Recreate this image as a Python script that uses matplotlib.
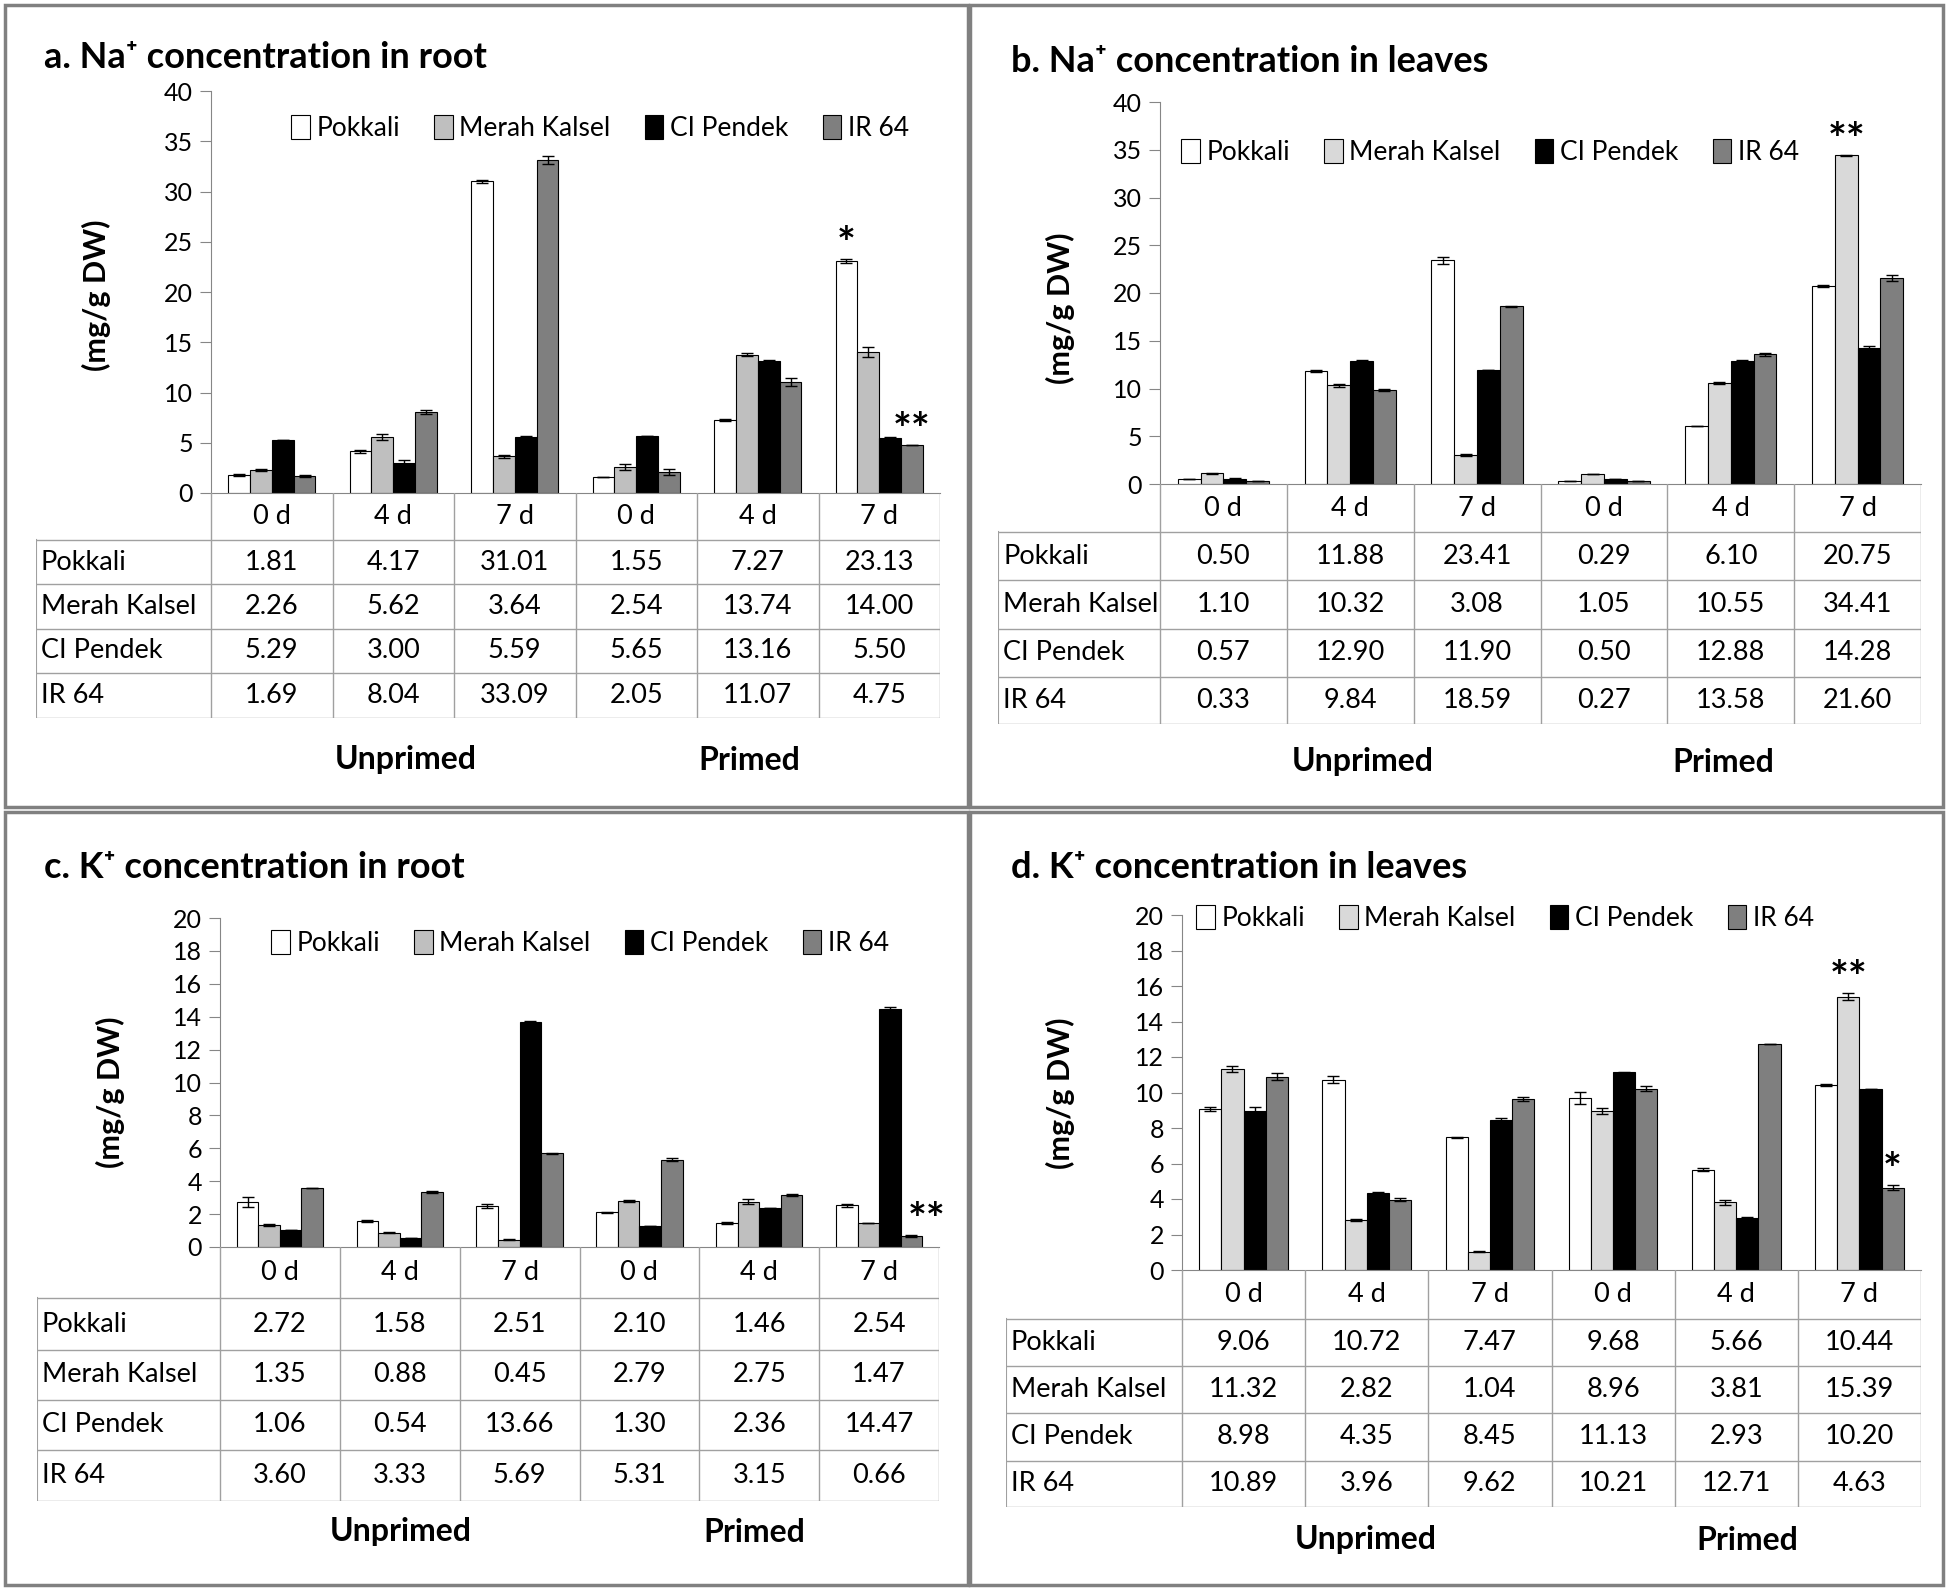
import matplotlib.pyplot as plt
import numpy as np
from matplotlib.patches import Rectangle

plt.rcParams['font.family'] = ['Lato', 'DejaVu Sans']

# Data
varieties = ['Pokkali', 'Merah Kalsel', 'CI Pendek', 'IR 64']
days = ['0 d', '4 d', '7 d', '0 d', '4 d', '7 d']
treatments = ['Unprimed', 'Primed']

# a. Na+ in root (mg/g DW)
na_root = [
    [1.81, 4.17, 31.01, 1.55, 7.27, 23.13],
    [2.26, 5.62, 3.64, 2.54, 13.74, 14.00],
    [5.29, 3.00, 5.59, 5.65, 13.16, 5.50],
    [1.69, 8.04, 33.09, 2.05, 11.07, 4.75],
]
na_root_err = [
    [0.10, 0.15, 0.15, 0.00, 0.10, 0.20],
    [0.10, 0.30, 0.15, 0.30, 0.15, 0.50],
    [0.00, 0.30, 0.10, 0.00, 0.10, 0.10],
    [0.10, 0.20, 0.40, 0.30, 0.40, 0.00],
]
na_root_sig = [(0, 5, '*'), (3, 5, '**')]

# b. Na+ in leaves
na_leaf = [
    [0.50, 11.88, 23.41, 0.29, 6.10, 20.75],
    [1.10, 10.32, 3.08, 1.05, 10.55, 34.41],
    [0.57, 12.90, 11.90, 0.50, 12.88, 14.28],
    [0.33, 9.84, 18.59, 0.27, 13.58, 21.60],
]
na_leaf_err = [
    [0.00, 0.10, 0.40, 0.00, 0.00, 0.10],
    [0.10, 0.15, 0.10, 0.00, 0.10, 0.05],
    [0.10, 0.10, 0.00, 0.00, 0.10, 0.20],
    [0.00, 0.15, 0.10, 0.00, 0.15, 0.30],
]
na_leaf_sig = [(1, 5, '**')]

# c. K+ in root
k_root = [
    [2.72, 1.58, 2.51, 2.10, 1.46, 2.54],
    [1.35, 0.88, 0.45, 2.79, 2.75, 1.47],
    [1.06, 0.54, 13.66, 1.30, 2.36, 14.47],
    [3.60, 3.33, 5.69, 5.31, 3.15, 0.66],
]
k_root_err = [
    [0.30, 0.05, 0.12, 0.05, 0.05, 0.08],
    [0.05, 0.05, 0.05, 0.08, 0.15, 0.00],
    [0.00, 0.00, 0.05, 0.00, 0.00, 0.12],
    [0.00, 0.05, 0.05, 0.10, 0.08, 0.05],
]
k_root_sig = [(3, 5, '**')]

# d. K+ in leaves
k_leaf = [
    [9.06, 10.72, 7.47, 9.68, 5.66, 10.44],
    [11.32, 2.82, 1.04, 8.96, 3.81, 15.39],
    [8.98, 4.35, 8.45, 11.13, 2.93, 10.20],
    [10.89, 3.96, 9.62, 10.21, 12.71, 4.63],
]
k_leaf_err = [
    [0.10, 0.20, 0.05, 0.35, 0.10, 0.05],
    [0.15, 0.05, 0.05, 0.15, 0.15, 0.20],
    [0.20, 0.05, 0.10, 0.05, 0.05, 0.00],
    [0.20, 0.10, 0.10, 0.15, 0.00, 0.15],
]
k_leaf_sig = [(1, 5, '**'), (3, 5, '*')]

colors_dark = ['white', '#bfbfbf', 'black', '#7f7f7f']
colors_light = ['white', '#d9d9d9', 'black', '#7f7f7f']

# Figure (pixel layout)
W, H = 1948, 1590
fig = plt.figure(figsize=(W / 100, H / 100), dpi=100)
fig.patch.set_facecolor('white')


def fx(px):
    return px / W


def fy(py):
    return 1 - py / H


def draw_panel(p):
    b = p['box']
    fig.patches.append(Rectangle((fx(b[0]), fy(b[3])), (b[2] - b[0]) / W, (b[3] - b[1]) / H,
                                 transform=fig.transFigure, fill=False, ec='#808080', lw=2.5))
    l, t, r, bt = p['ax']
    ax = fig.add_axes([fx(l), fy(bt), (r - l) / W, (bt - t) / H])
    x = np.arange(len(days))
    w = 0.18
    for i, name in enumerate(varieties):
        ax.bar(x + (i - 1.5) * w, p['vals'][i], w, yerr=p['errs'][i], color=p['colors'][i],
               edgecolor='black', linewidth=0.8, label=name, capsize=4,
               error_kw=dict(elinewidth=1, capthick=1, ecolor='black'))
    for vi, gi, s in p['sig']:
        top = p['vals'][vi][gi] + p['errs'][vi][gi]
        ax.annotate(s, (gi + (vi - 1.5) * w, top), xytext=(p.get('sig_dx', 0), 10),
                    textcoords='offset points', ha='center', va='center',
                    fontsize=32, fontweight='bold')
    ax.set_xlim(-0.5, len(days) - 0.5)
    ax.set_ylim(0, p['ymax'])
    ax.set_yticks(np.arange(0, p['ymax'] + p['ystep'], p['ystep']))
    ax.set_xticks([])
    ax.tick_params(axis='y', labelsize=18, length=8, color='#868686', pad=5)
    for s in ['top', 'right']:
        ax.spines[s].set_visible(False)
    for s in ['left', 'bottom']:
        ax.spines[s].set_color('#868686')
    ax.legend(loc='center', bbox_to_anchor=(fx(p['leg'][0]), fy(p['leg'][1])),
              bbox_transform=fig.transFigure, ncol=4, frameon=False, fontsize=19,
              handlelength=0.7, handleheight=1.0, handletextpad=0.25, columnspacing=1.3)

    # data table below the bars
    rows = p['rows']
    unit = (r - l) / len(days)
    lw_u = (l - p['tab_left']) / unit
    tx = fig.add_axes([fx(p['tab_left']), fy(rows[-1]), (r - p['tab_left']) / W, (rows[-1] - rows[0]) / H])
    x0 = -0.5 - lw_u
    tx.set_xlim(x0, len(days) - 0.5)
    tx.set_ylim(rows[-1], rows[0])
    tx.axis('off')
    lc = '#a0a0a0'
    for k in range(len(days) + 1):
        tx.plot([k - 0.5, k - 0.5], [rows[0], rows[-1]], color=lc, lw=1)
    tx.plot([x0, x0], [rows[1], rows[-1]], color=lc, lw=1.5)
    for yy in rows[1:]:
        tx.plot([x0, len(days) - 0.5], [yy, yy], color=lc, lw=1)
    for k, d in enumerate(days):
        tx.text(k, (rows[0] + rows[1]) / 2, d, ha='center', va='center', fontsize=19.5)
    for i, name in enumerate(varieties):
        yc = (rows[i + 1] + rows[i + 2]) / 2
        tx.text(x0 + 0.04, yc, name, ha='left', va='center', fontsize=19.5)
        for k in range(len(days)):
            tx.text(k, yc, '%.2f' % p['vals'][i][k], ha='center', va='center', fontsize=19.5)

    for gx, lab in zip(p['grp_x'], treatments):
        fig.text(fx(gx), fy(p['grp_y']), lab, ha='center', va='center', fontsize=23, fontweight='bold')
    fig.text(fx(p['title'][0]), fy(p['title'][1]), p['name'], ha='left', va='center',
             fontsize=26, fontweight='bold')
    fig.text(fx(p['ylab'][0]), fy(p['ylab'][1]), '(mg/g DW)', rotation=90, ha='center', va='center',
             fontsize=22, fontweight='bold')


panels = [
    dict(name='a. Na\u207a concentration in root', vals=na_root, errs=na_root_err, sig=na_root_sig,
         colors=colors_dark, ymax=40, ystep=5,
         box=(5, 5, 968, 807), ax=(211, 91, 940, 493), tab_left=36,
         rows=[493, 540, 584, 629, 673, 718], title=(44, 58), ylab=(96, 295),
         leg=(600, 128), grp_y=760, grp_x=(406, 749)),
    dict(name='b. Na\u207a concentration in leaves', vals=na_leaf, errs=na_leaf_err, sig=na_leaf_sig,
         colors=colors_light, ymax=40, ystep=5,
         box=(970, 5, 1943, 807), ax=(1160, 102, 1921, 484), tab_left=998,
         rows=[484, 532, 580, 629, 677, 724], title=(1011, 61), ylab=(1060, 308),
         leg=(1490, 152), grp_y=762, grp_x=(1363, 1723)),
    dict(name='c. K\u207a concentration in root', vals=k_root, errs=k_root_err, sig=k_root_sig,
         colors=colors_dark, ymax=20, ystep=2, sig_dx=11,
         box=(5, 812, 968, 1585), ax=(220, 918, 939, 1247), tab_left=37,
         rows=[1247, 1298, 1350, 1400, 1450, 1501], title=(44, 868), ylab=(110, 1092),
         leg=(580, 943), grp_y=1532, grp_x=(401, 754)),
    dict(name='d. K\u207a concentration in leaves', vals=k_leaf, errs=k_leaf_err, sig=k_leaf_sig,
         colors=colors_light, ymax=20, ystep=2,
         box=(970, 812, 1943, 1585), ax=(1182, 915, 1921, 1270), tab_left=1006,
         rows=[1270, 1319, 1366, 1413, 1461, 1507], title=(1011, 867), ylab=(1060, 1093),
         leg=(1505, 918), grp_y=1540, grp_x=(1366, 1747)),
]

for p in panels:
    draw_panel(p)

fig.savefig('out.png', dpi=100, facecolor='white')
